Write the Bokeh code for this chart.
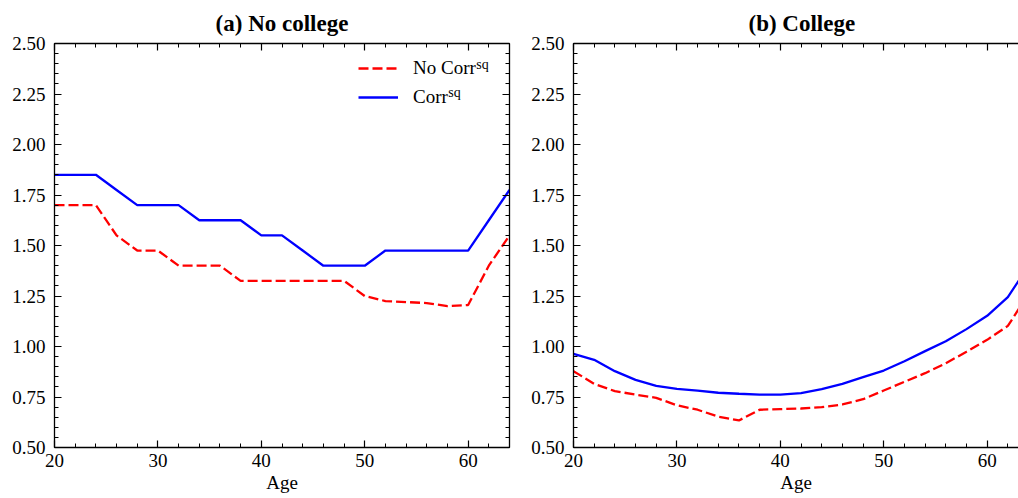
from bokeh.plotting import figure
from bokeh.layouts import row
from bokeh.models import (LinearAxis, SingleIntervalTicker, NumeralTickFormatter, CustomJSTickFormatter,
                          Legend, LegendItem, Label, Range1d)
from bokeh.embed import file_html
from bokeh.resources import INLINE

# ---------------- data ----------------
ages = [20, 22, 24, 26, 28, 30, 32, 34, 36, 38, 40, 42, 44, 46, 48, 50, 52, 54, 56, 58, 60, 62, 64]

# (a) No college
nocol_nocorr = [1.70, 1.70, 1.70, 1.55, 1.475, 1.475, 1.40, 1.40, 1.40, 1.325, 1.325, 1.325,
                1.325, 1.325, 1.325, 1.25, 1.225, 1.22, 1.215, 1.20, 1.205, 1.40, 1.55]
nocol_corr = [1.85, 1.85, 1.85, 1.775, 1.70, 1.70, 1.70, 1.625, 1.625, 1.625, 1.55, 1.55,
              1.475, 1.40, 1.40, 1.40, 1.475, 1.475, 1.475, 1.475, 1.475, 1.625, 1.775]

# (b) College
col_nocorr = [0.878, 0.815, 0.779, 0.762, 0.746, 0.709, 0.687, 0.653, 0.634, 0.687, 0.690, 0.693,
              0.700, 0.713, 0.739, 0.782, 0.825, 0.868, 0.917, 0.974, 1.033, 1.102, 1.260]
col_corr = [0.964, 0.934, 0.878, 0.835, 0.805, 0.790, 0.782, 0.771, 0.766, 0.762, 0.762, 0.769,
            0.789, 0.815, 0.848, 0.881, 0.927, 0.977, 1.026, 1.086, 1.152, 1.244, 1.400]

titles = ["(a) No college", "(b) College"]
series_labels = ["No Corr", "Corr"]
superscript = "sq"
x_label = "Age"

FONT = "Liberation Serif"
RED = "#ff0000"
BLUE = "#0000ff"


def make_axis(kind, labels):
    if kind == "x":
        ticker = SingleIntervalTicker(interval=10, num_minor_ticks=5)
        fmt = NumeralTickFormatter(format="0")
    else:
        ticker = SingleIntervalTicker(interval=0.25, num_minor_ticks=5)
        fmt = NumeralTickFormatter(format="0.00")
    if not labels:
        fmt = CustomJSTickFormatter(code="return ''")
    ax = LinearAxis(ticker=ticker, formatter=fmt,
                    axis_line_color="black", axis_line_width=1.3,
                    major_tick_line_color="black", minor_tick_line_color="black",
                    major_tick_line_width=1.2, minor_tick_line_width=1.0,
                    major_tick_in=7, major_tick_out=0, minor_tick_in=4, minor_tick_out=0,
                    major_label_text_font=FONT, major_label_text_font_size="19px",
                    major_label_text_color="black",
                    major_label_standoff=(6 if kind == "x" else 9) if labels else 0)
    if kind == "x" and labels:
        ax.axis_label = x_label
        ax.axis_label_text_font = FONT
        ax.axis_label_text_font_size = "19px"
        ax.axis_label_text_font_style = "normal"
        ax.axis_label_text_color = "black"
        ax.axis_label_standoff = 2
    return ax


def make_fig(title, x_end, width, border_left, border_right, mirror_right, title_align, title_offset):
    p = figure(width=width, height=498, x_range=Range1d(20, x_end), y_range=Range1d(0.5, 2.5),
               x_axis_type=None, y_axis_type=None,
               output_backend="svg", toolbar_location=None,
               min_border_left=border_left, min_border_right=border_right,
               min_border_top=43, min_border_bottom=51)
    p.xgrid.visible = False
    p.ygrid.visible = False
    p.outline_line_color = None
    p.background_fill_color = "white"
    p.border_fill_color = "white"

    p.add_layout(make_axis("x", True), "below")
    p.add_layout(make_axis("y", True), "left")
    p.add_layout(make_axis("x", False), "above")
    if mirror_right:
        p.add_layout(make_axis("y", False), "right")

    p.title.text = title
    p.title.text_font = FONT
    p.title.text_font_size = "23px"
    p.title.text_font_style = "bold"
    p.title.text_color = "black"
    p.title.align = title_align
    p.title.offset = title_offset
    p.title.standoff = 15
    return p


p1 = make_fig(titles[0], 64, 519, 54, 10, True, "center", 0)
p2 = make_fig(titles[1], 63.03, 499, 54, 0, False, "left", 175)

for p, nc, c, with_legend in [(p1, nocol_nocorr, nocol_corr, True), (p2, col_nocorr, col_corr, False)]:
    r_red = p.line(ages, nc, line_color=RED, line_width=2.3, line_dash="10 4")
    r_blue = p.line(ages, c, line_color=BLUE, line_width=2.3)
    if with_legend:
        leg = Legend(items=[LegendItem(label=series_labels[0], renderers=[r_red]),
                            LegendItem(label=series_labels[1], renderers=[r_blue])],
                     location=(304, 339), padding=0, margin=0, spacing=7,
                     glyph_width=40, glyph_height=20, label_standoff=15,
                     label_text_font=FONT, label_text_font_size="19px", label_text_color="black",
                     border_line_color=None, background_fill_alpha=0)
        p.add_layout(leg)
        for i, lab in enumerate(series_labels):
            w = 62.8 if i == 0 else 34.8
            p.add_layout(Label(x=304 + 40 + 15 + w, y=383.5 - 28 * i, x_units="screen", y_units="screen",
                               text=superscript, text_font=FONT, text_font_size="14px",
                               text_color="black", text_baseline="alphabetic"))

layout = row(p1, p2)
open("out.html", "w").write(file_html(layout, INLINE))
